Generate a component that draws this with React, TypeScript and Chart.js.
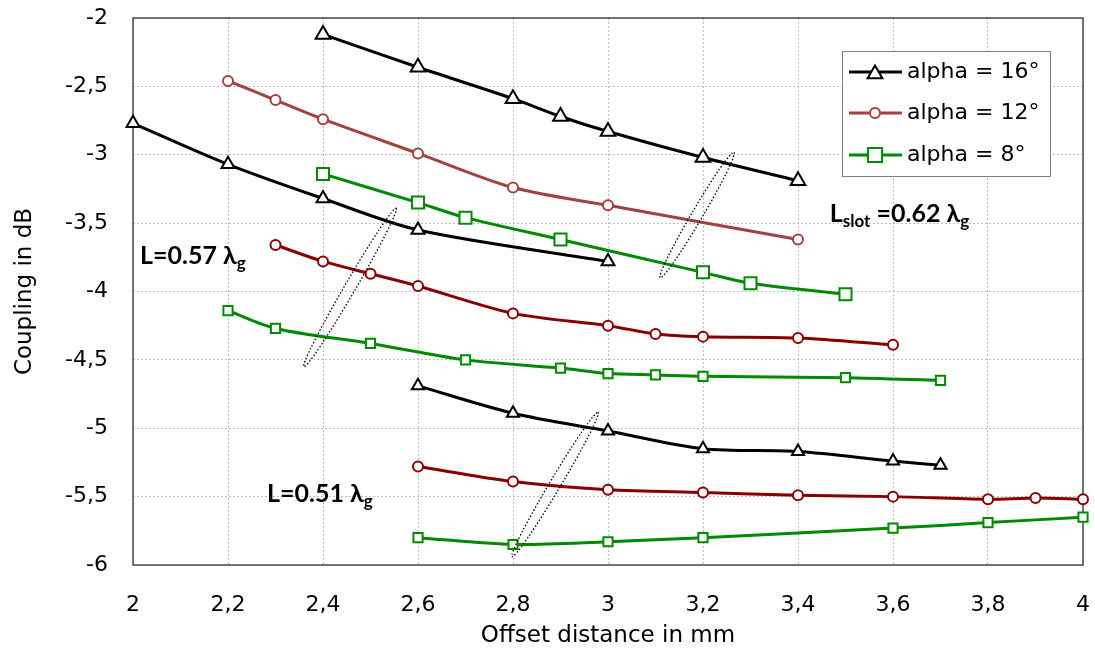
import React, { useEffect, useRef } from 'react';
import { Chart, registerables } from 'chart.js';

Chart.register(...registerables);

// ---- Data: slot length L = 0.62 λg ----
const x62a16 = [2.4, 2.6, 2.8, 2.9, 3.0, 3.2, 3.4];
const y62a16 = [-2.12, -2.36, -2.59, -2.72, -2.83, -3.02, -3.19];
const x62a12 = [2.2, 2.3, 2.4, 2.6, 2.8, 3.0, 3.4];
const y62a12 = [-2.46, -2.6, -2.74, -2.99, -3.24, -3.37, -3.62];
const x62a8 = [2.4, 2.6, 2.7, 2.9, 3.2, 3.3, 3.5];
const y62a8 = [-3.14, -3.35, -3.46, -3.62, -3.86, -3.94, -4.02];

// ---- Data: L = 0.57 λg ----
const x57a16 = [2.0, 2.2, 2.4, 2.6, 3.0];
const y57a16 = [-2.77, -3.07, -3.32, -3.55, -3.78];
const x57a12 = [2.3, 2.4, 2.5, 2.6, 2.8, 3.0, 3.1, 3.2, 3.4, 3.6];
const y57a12 = [-3.66, -3.78, -3.87, -3.96, -4.16, -4.25, -4.31, -4.33, -4.34, -4.39];
const x57a8 = [2.2, 2.3, 2.5, 2.7, 2.9, 3.0, 3.1, 3.2, 3.5, 3.7];
const y57a8 = [-4.14, -4.27, -4.38, -4.5, -4.56, -4.6, -4.61, -4.62, -4.63, -4.65];

// ---- Data: L = 0.51 λg ----
const x51a16 = [2.6, 2.8, 3.0, 3.2, 3.4, 3.6, 3.7];
const y51a16 = [-4.69, -4.89, -5.02, -5.15, -5.17, -5.24, -5.27];
const x51a12 = [2.6, 2.8, 3.0, 3.2, 3.4, 3.6, 3.8, 3.9, 4.0];
const y51a12 = [-5.28, -5.39, -5.45, -5.47, -5.49, -5.5, -5.52, -5.51, -5.52];
const x51a8 = [2.6, 2.8, 3.0, 3.2, 3.6, 3.8, 4.0];
const y51a8 = [-5.8, -5.85, -5.83, -5.8, -5.73, -5.69, -5.65];

const legendLabels = ['alpha = 16°', 'alpha = 12°', 'alpha = 8°'];
const xTitle = 'Offset distance in mm';
const yTitle = 'Coupling in dB';

const BLACK = '#000000';
const BROWN = '#a3423c';
const DARKRED = '#880000';
const GREEN = '#008a00';

const fmt = (v: any) => String(Math.round(Number(v) * 10) / 10).replace('.', ',');
const pts = (xs: number[], ys: number[]) => xs.map((x, i) => ({ x, y: ys[i] }));

function ds(xs: number[], ys: number[], color: string, style: string, r: number) {
  return {
    data: pts(xs, ys),
    borderColor: color,
    backgroundColor: '#ffffff',
    borderWidth: 3,
    pointStyle: style,
    pointRadius: r,
    pointBorderWidth: 2,
    pointBorderColor: color,
    pointBackgroundColor: '#ffffff',
    tension: 0.3,
    clip: false as any,
  };
}

function drawMarker(ctx: CanvasRenderingContext2D, style: string, x: number, y: number, r: number, color: string) {
  ctx.save();
  ctx.fillStyle = '#fff';
  ctx.strokeStyle = color;
  ctx.lineWidth = 2;
  ctx.beginPath();
  if (style === 'triangle') {
    ctx.moveTo(x, y - r);
    ctx.lineTo(x + r * Math.sin(Math.PI / 3), y + r * 0.5);
    ctx.lineTo(x - r * Math.sin(Math.PI / 3), y + r * 0.5);
    ctx.closePath();
  } else if (style === 'circle') {
    ctx.arc(x, y, r, 0, Math.PI * 2);
  } else {
    const s = r * Math.SQRT1_2;
    ctx.rect(x - s, y - s, 2 * s, 2 * s);
  }
  ctx.fill();
  ctx.stroke();
  ctx.restore();
}

function drawRich(ctx: CanvasRenderingContext2D, x: number, y: number, parts: [string, number, number][]) {
  ctx.save();
  ctx.fillStyle = '#000';
  ctx.textBaseline = 'alphabetic';
  ctx.textAlign = 'left';
  let cx = x;
  for (const [t, size, dy] of parts) {
    ctx.font = `bold ${size}px Lato, "Open Sans", "DejaVu Sans", sans-serif`;
    ctx.fillText(t, cx, y + dy);
    cx += ctx.measureText(t).width;
  }
  ctx.restore();
}

const decoPlugin = {
  id: 'deco',
  beforeDatasetsDraw(chart: any) {
    const { ctx, chartArea: a } = chart;
    ctx.save();
    ctx.strokeStyle = '#4a4a4a';
    ctx.lineWidth = 1.5;
    ctx.strokeRect(a.left, a.top, a.right - a.left, a.bottom - a.top);
    ctx.restore();
  },
  afterDatasetsDraw(chart: any) {
    const { ctx } = chart;
    const xs = chart.scales.x;
    const ys = chart.scales.y;
    const px = (v: number) => xs.getPixelForValue(v);
    const py = (v: number) => ys.getPixelForValue(v);

    // dotted ellipses grouping the curves
    const ellipses = [
      [2.362, -4.537, 2.552, -3.404],
      [3.112, -3.887, 3.263, -2.995],
      [2.8, -5.927, 2.977, -4.896],
    ];
    ctx.save();
    ctx.strokeStyle = '#000';
    ctx.lineWidth = 1.3;
    ctx.setLineDash([1.5, 2]);
    for (const [x1, y1, x2, y2] of ellipses) {
      const ax = px(x1), ay = py(y1), bx = px(x2), by = py(y2);
      const cx = (ax + bx) / 2, cy = (ay + by) / 2;
      const len = Math.hypot(bx - ax, by - ay);
      const ang = Math.atan2(by - ay, bx - ax);
      ctx.beginPath();
      ctx.ellipse(cx, cy, len / 2 + 2, 5.5, ang, 0, Math.PI * 2);
      ctx.stroke();
    }
    ctx.restore();

    // annotations
    drawRich(ctx, px(2.0147), py(-3.799), [['L=0.57 λ', 25, 0], ['g', 17, 5]]);
    drawRich(ctx, px(2.282), py(-5.539), [['L=0.51 λ', 25, 0], ['g', 17, 5]]);
    drawRich(ctx, px(3.467), py(-3.492), [['L', 25, 0], ['slot', 17, 5], [' =0.62 λ', 25, 0], ['g', 17, 5]]);

    // legend
    const bx = 842, by = 51, bw = 208, bh = 125;
    ctx.save();
    ctx.fillStyle = '#fff';
    ctx.fillRect(bx, by, bw, bh);
    ctx.strokeStyle = '#7f7f7f';
    ctx.lineWidth = 1;
    ctx.strokeRect(bx + 0.5, by + 0.5, bw, bh);
    const rows = [
      { c: BLACK, s: 'triangle', r: 8.5, y: 72 },
      { c: BROWN, s: 'circle', r: 5, y: 113 },
      { c: GREEN, s: 'rect', r: 10, y: 155 },
    ];
    rows.forEach((row, i) => {
      ctx.strokeStyle = row.c;
      ctx.lineWidth = 3;
      ctx.beginPath();
      ctx.moveTo(849, row.y);
      ctx.lineTo(902, row.y);
      ctx.stroke();
      drawMarker(ctx, row.s, 875, row.s === 'triangle' ? row.y + 2 : row.y, row.r, row.c);
      ctx.fillStyle = '#000';
      ctx.font = '22px "DejaVu Sans", sans-serif';
      ctx.textBaseline = 'middle';
      ctx.textAlign = 'left';
      ctx.fillText(legendLabels[i], 907, row.y);
    });
    ctx.restore();
  },
};

const zeroPad = (s: any) => {
  s.paddingTop = 0;
  s.paddingBottom = 0;
  s.paddingLeft = 0;
  s.paddingRight = 0;
};

export default function App() {
  const ref = useRef<HTMLCanvasElement>(null);
  useEffect(() => {
    const canvas = ref.current!;
    const tickFont = { family: '"DejaVu Sans", sans-serif', size: 22 };
    const titleFont = { family: '"DejaVu Sans", sans-serif', size: 23 };
    const chart = new Chart(canvas, {
      type: 'line',
      data: {
        datasets: [
          ds(x62a16, y62a16, BLACK, 'triangle', 8.5),
          ds(x62a12, y62a12, BROWN, 'circle', 5),
          ds(x62a8, y62a8, GREEN, 'rect', 8.5),
          ds(x57a16, y57a16, BLACK, 'triangle', 7.5),
          ds(x57a12, y57a12, DARKRED, 'circle', 5),
          ds(x57a8, y57a8, GREEN, 'rect', 6.5),
          ds(x51a16, y51a16, BLACK, 'triangle', 7),
          ds(x51a12, y51a12, DARKRED, 'circle', 5),
          ds(x51a8, y51a8, GREEN, 'rect', 6.5),
        ] as any,
      },
      options: {
        responsive: false,
        animation: false,
        devicePixelRatio: 1,
        layout: { padding: { top: 18, right: 12, left: 0, bottom: 0 } },
        plugins: { legend: { display: false }, tooltip: { enabled: false } },
        scales: {
          x: {
            type: 'linear',
            min: 2,
            max: 4,
            ticks: { stepSize: 0.2, padding: 27, color: '#000', font: tickFont, callback: (v: any) => fmt(v), maxRotation: 0, autoSkip: false },
            grid: { color: '#bdbdbd', lineWidth: 1, drawTicks: false, tickLength: 0 },
            border: { display: false, dash: [2, 2] },
            title: { display: true, text: xTitle, color: '#000', font: titleFont, padding: { top: 0, bottom: 2 } },
            afterFit: (s: any) => { s.height = 87; zeroPad(s); },
          },
          y: {
            type: 'linear',
            min: -6,
            max: -2,
            ticks: { stepSize: 0.5, padding: 25, color: '#000', font: tickFont, callback: (v: any) => fmt(v) },
            grid: { color: '#bdbdbd', lineWidth: 1, drawTicks: false, tickLength: 0 },
            border: { display: false, dash: [2, 2] },
            title: { display: true, text: yTitle, color: '#000', font: titleFont, padding: { top: 11, bottom: 0 } },
            afterFit: (s: any) => { s.width = 133; zeroPad(s); },
          },
        },
      } as any,
      plugins: [decoPlugin as any],
    });
    return () => chart.destroy();
  }, []);
  return (
    <div style={{ position: 'fixed', left: 0, top: 0, width: 1095, height: 652, background: '#fff' }}>
      <canvas ref={ref} width={1095} height={652} style={{ display: 'block', width: 1095, height: 652 }} />
    </div>
  );
}
